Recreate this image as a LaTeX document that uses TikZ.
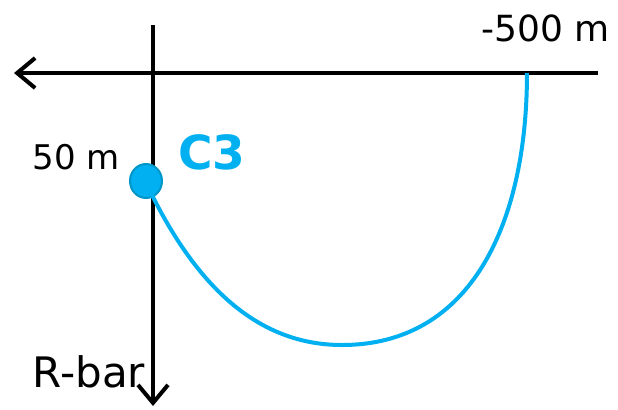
\documentclass[tikz,border=0pt]{standalone}
\usepackage{fontspec}
\setmainfont{DejaVu Sans}
\usetikzlibrary{arrows.meta,shapes.geometric}
\definecolor{cthree}{RGB}{0,176,240}
\definecolor{cthreedark}{RGB}{0,150,200}
\begin{document}
\begin{tikzpicture}[x=0.5pt,y=-0.5pt,
  axis/.style={line width=2pt,-{Straight Barb[length=9pt,width=15pt,line width=2pt]}},
  path3/.style={draw=cthree,line width=2pt},
  lbl/.style={inner sep=0pt,font=\fontsize{17}{20}\selectfont}]
\useasboundingbox (0,0) rectangle (618,409);
\coordinate (hr) at (598,73);
\coordinate (hl) at (14,73);
\coordinate (vt) at (153,25);
\coordinate (vb) at (153,406);
\draw[axis] (hr) -- (hl);
\draw[axis] (vt) -- (vb);
\coordinate (pend) at (527,73);
\coordinate (pbot) at (342,345);
\node[draw=cthreedark,fill=cthree,ellipse,line width=1pt,minimum width=16pt,minimum height=17pt,inner sep=0pt] (dot) at (146,181) {};
\draw[path3] (151,193) .. controls (200,292) and (262,345) .. (pbot)
  .. controls (472,345) and (527,222) .. (pend);
\node[lbl,font=\fontsize{18}{21}\selectfont] (l500) at (546,28) {-500 m};
\node[lbl] (l50) at (76,157) {50 m};
\node[inner sep=0pt,text=cthree,font=\bfseries\fontsize{23.5}{27}\selectfont] (c3) at (212,152) {C3};
\node[lbl,font=\fontsize{21}{25}\selectfont] (rbar) at (89,372) {R-bar};
\end{tikzpicture}
\end{document}
